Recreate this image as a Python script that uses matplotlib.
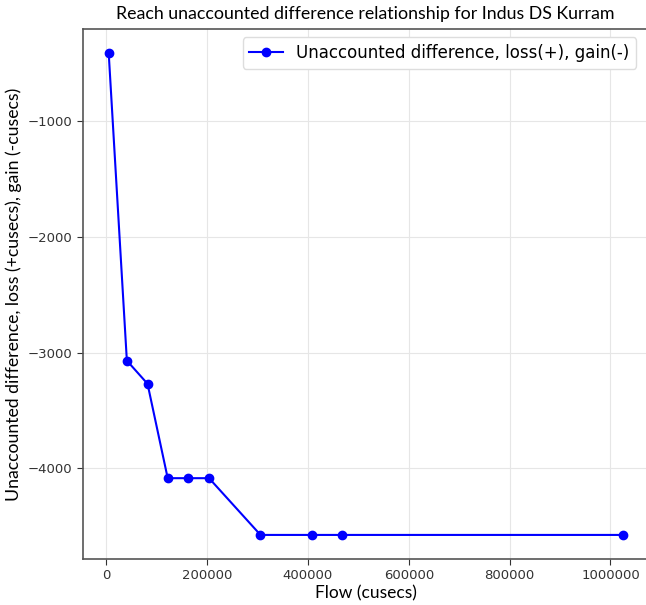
import matplotlib
matplotlib.use("Agg")
import matplotlib.pyplot as plt

# values
flow = [5000, 41000, 82000, 122000, 163000, 204000, 306000, 408000, 468000, 1024000]
unaccounted = [-415, -3070, -3270, -4085, -4085, -4085, -4575, -4575, -4575, -4575]

fig = plt.figure(figsize=(6.46, 6.05), dpi=100)
# right edge of the axes sits just past the picture border, like the reference
ax = fig.add_axes([0.1285, 0.076, 0.875, 0.876])

ax.plot(flow, unaccounted, color='blue', marker='o', markersize=6, linewidth=1.5,
        label='Unaccounted difference, loss(+), gain(-)')

ax.grid(True, color='#e6e6e6', linewidth=0.8)
ax.set_axisbelow(True)
for s in ax.spines.values():
    s.set_color('#555555')
    s.set_linewidth(1.2)
ax.tick_params(labelsize=9.5, colors='#333333', length=4)
ax.ticklabel_format(style='plain', axis='x')

ax.set_xlabel('Flow (cusecs)', fontsize=12.5, family='Lato', labelpad=2)
ax.set_ylabel('Unaccounted difference, loss (+cusecs), gain (-cusecs)', fontsize=12.7,
              family='Lato', labelpad=4)
ax.set_title('Reach unaccounted difference relationship for Indus DS Kurram',
             fontsize=12.8, family='Lato', pad=7)

ax.legend(loc='upper right', fontsize=12, handlelength=2, framealpha=1,
          edgecolor='#dddddd', bbox_to_anchor=(0.993, 1.0))

fig.savefig('out.png', dpi=100)
